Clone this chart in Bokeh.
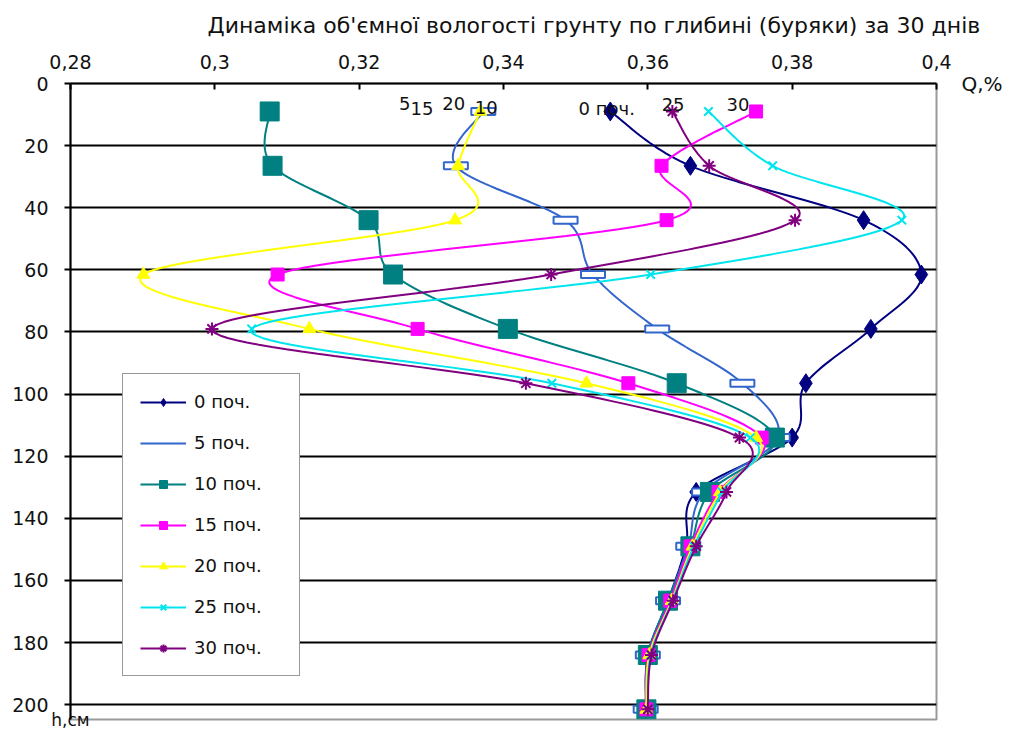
import numpy as np
from bokeh.plotting import figure
from bokeh.models import (Range1d, FixedTicker, Label, Legend, LegendItem,
                          LinearAxis, Title)
from bokeh.embed import file_html
from bokeh.resources import INLINE

# ---------------- data ----------------
depth = [9, 26.5, 44, 61.5, 79, 96.5, 114, 131.5, 149, 166.5, 184, 201.5]

day0 = [0.3548, 0.3659, 0.3899, 0.3979, 0.3909, 0.3819, 0.3800, 0.3667, 0.3653, 0.3628, 0.3600, 0.3598]
day5 = [0.3372, 0.3334, 0.3486, 0.3524, 0.3613, 0.3731, 0.3780, 0.3678, 0.3656, 0.3628, 0.3600, 0.3597]
day10 = [0.3076, 0.3080, 0.3213, 0.3247, 0.3406, 0.3640, 0.3776, 0.3686, 0.3659, 0.3628, 0.3600, 0.3598]
day15 = [0.3750, 0.3619, 0.3626, 0.3087, 0.3281, 0.3573, 0.3758, 0.3698, 0.3659, 0.3631, 0.3601, 0.3598]
day20 = [0.3368, 0.3337, 0.3333, 0.2901, 0.3131, 0.3515, 0.3750, 0.3700, 0.3662, 0.3633, 0.3602, 0.3598]
day25 = [0.3684, 0.3773, 0.3952, 0.3604, 0.3051, 0.3467, 0.3742, 0.3703, 0.3664, 0.3634, 0.3604, 0.3600]
day30 = [0.3634, 0.3685, 0.3804, 0.3466, 0.2996, 0.3431, 0.3727, 0.3709, 0.3667, 0.3635, 0.3605, 0.3600]

series_labels = ["0 поч.", "5 поч.", "10 поч.", "15 поч.", "20 поч.", "25 поч.", "30 поч."]

x_ticks = [0.28, 0.30, 0.32, 0.34, 0.36, 0.38, 0.40]
x_tick_labels = ["0,28", "0,3", "0,32", "0,34", "0,36", "0,38", "0,4"]
y_ticks = [0, 20, 40, 60, 80, 100, 120, 140, 160, 180, 200]
y_tick_labels = ["0", "20", "40", "60", "80", "100", "120", "140", "160", "180", "200"]

title_text = "Динаміка об'ємної вологості грунту по глибині (буряки) за 30 днів"
x_label_text = "Q,%"
y_label_text = "h,см"

# ---------------- helpers ----------------
FONT = "DejaVu Sans"


def smooth(xs, ys, n=24):
    """Excel-like smoothed line (Catmull-Rom Bezier) through the data points."""
    P = np.column_stack([xs, ys]).astype(float)
    P = np.vstack([P[0], P, P[-1]])
    t = np.linspace(0, 1, n, endpoint=False)[:, None]
    segs = []
    for i in range(1, len(P) - 2):
        p0, p1, p2, p3 = P[i - 1], P[i], P[i + 1], P[i + 2]
        c1 = p1 + (p2 - p0) / 6.0
        c2 = p2 - (p3 - p1) / 6.0
        seg = ((1 - t) ** 3) * p1 + 3 * ((1 - t) ** 2) * t * c1 + 3 * (1 - t) * (t ** 2) * c2 + (t ** 3) * p2
        segs.append(seg)
    segs.append(P[-2][None, :])
    S = np.vstack(segs)
    return S[:, 0], S[:, 1]


# ---------------- figure ----------------
p = figure(width=1005, height=732,
           x_range=Range1d(0.28, 0.40), y_range=Range1d(204.76, 0),
           x_axis_location="above",
           output_backend="svg", toolbar_location=None,
           min_border_left=70, min_border_right=67, min_border_top=83, min_border_bottom=4)

p.title = Title(text=title_text, align="left", offset=137, standoff=23,
                vertical_align="top",
                text_font=FONT, text_font_size="22px", text_font_style="normal",
                text_color="#111111")

p.background_fill_color = "white"
p.border_fill_color = "white"
p.outline_line_color = "#9a9a9a"
p.outline_line_width = 2

xax = p.xaxis[0]
xax.ticker = FixedTicker(ticks=x_ticks)
xax.major_label_overrides = {t: l for t, l in zip(x_ticks, x_tick_labels)}
xax.major_tick_in = 6
xax.major_tick_out = 0
xax.minor_tick_line_color = None
xax.axis_line_color = "black"
xax.axis_line_width = 2
xax.major_tick_line_color = "black"
xax.major_tick_line_width = 2
xax.major_label_standoff = 15
xax.major_label_text_font = FONT
xax.major_label_text_font_size = "19px"
xax.major_label_text_color = "#111111"

yax = p.yaxis[0]
yax.ticker = FixedTicker(ticks=y_ticks)
yax.major_label_overrides = {t: l for t, l in zip(y_ticks, y_tick_labels)}
yax.major_tick_in = 0
yax.major_tick_out = 6
yax.minor_tick_line_color = None
yax.axis_line_color = "black"
yax.axis_line_width = 2
yax.major_tick_line_color = "black"
yax.major_tick_line_width = 2
yax.major_label_standoff = 16
yax.major_label_text_font = FONT
yax.major_label_text_font_size = "19px"
yax.major_label_text_color = "#111111"

# "Q,%" next to the top axis, at the level of depth 0
q_axis = LinearAxis(ticker=FixedTicker(ticks=[0]), major_label_overrides={0: x_label_text},
                    axis_line_color=None, major_tick_line_color=None,
                    minor_tick_line_color=None, major_label_standoff=19,
                    major_label_text_font=FONT, major_label_text_font_size="20px",
                    major_label_text_color="#111111")
p.add_layout(q_axis, "right")

# "h,см" under the depth axis
h_axis = LinearAxis(ticker=FixedTicker(ticks=[0.28]), major_label_overrides={0.28: y_label_text},
                    axis_line_color=None, major_tick_line_color=None,
                    minor_tick_line_color=None, major_label_standoff=-16,
                    major_label_text_font=FONT, major_label_text_font_size="17px",
                    major_label_text_color="#111111")
p.add_layout(h_axis, "below")

p.xgrid.grid_line_color = None
p.ygrid.ticker = FixedTicker(ticks=y_ticks)
p.ygrid.grid_line_color = "black"
p.ygrid.grid_line_width = 1.8

# ---------------- series ----------------
styles = [
    dict(data=day0, color="#000080", marker="diamond", size=19, fill="#000080"),
    dict(data=day5, color="#3366cc", marker="rect", size=0, fill="white"),
    dict(data=day10, color="#008080", marker="square", size=19, fill="#008080"),
    dict(data=day15, color="#ff00ff", marker="square", size=13, fill="#ff00ff"),
    dict(data=day20, color="#ffff00", marker="triangle", size=13, fill="#ffff00"),
    dict(data=day25, color="#00e5ee", marker="x", size=12, fill="#00e5ee"),
    dict(data=day30, color="#800080", marker="asterisk", size=13, fill="#800080"),
]

items = []
for lab, st in zip(series_labels, styles):
    sx, sy = smooth(st["data"], depth)
    ln = p.line(sx, sy, line_color=st["color"], line_width=2)
    if st["marker"] == "rect":
        p.rect(st["data"], depth, width=24, height=7, width_units="screen",
               height_units="screen", fill_color="white", line_color=st["color"],
               line_width=2)
        rends = [ln]
    else:
        mk = p.scatter(st["data"], depth, marker=st["marker"], size=st["size"],
                       fill_color=st["fill"], line_color=st["color"],
                       line_width=2 if st["marker"] in ("x", "asterisk") else 1)
        rends = [ln, mk]
    items.append(LegendItem(label=lab, renderers=rends))

legend = Legend(items=items, location=(52, 43), orientation="vertical",
                padding=17, spacing=20, glyph_height=20, glyph_width=46,
                label_height=20, label_width=88, label_standoff=8, margin=0,
                label_text_font=FONT, label_text_font_size="18px",
                label_text_color="#111111",
                border_line_color="#333333", border_line_width=1,
                background_fill_color="white", background_fill_alpha=1.0)
p.add_layout(legend, "center")

# ---------------- in-plot annotations ----------------
ann_text = ["5", "15", "20", "10", "0 поч.", "25", "30"]
ann_q = [0.3263, 0.3287, 0.3331, 0.3376, 0.3543, 0.3635, 0.3725]
ann_h = [6.3, 8.0, 6.3, 7.6, 8.2, 6.7, 6.7]
for t, q, h in zip(ann_text, ann_q, ann_h):
    p.add_layout(Label(x=q, y=h, text=t, text_font=FONT, text_font_size="18px",
                       text_align="center", text_baseline="middle", text_color="#111111"))

open("out.html", "w").write(file_html(p, INLINE))
